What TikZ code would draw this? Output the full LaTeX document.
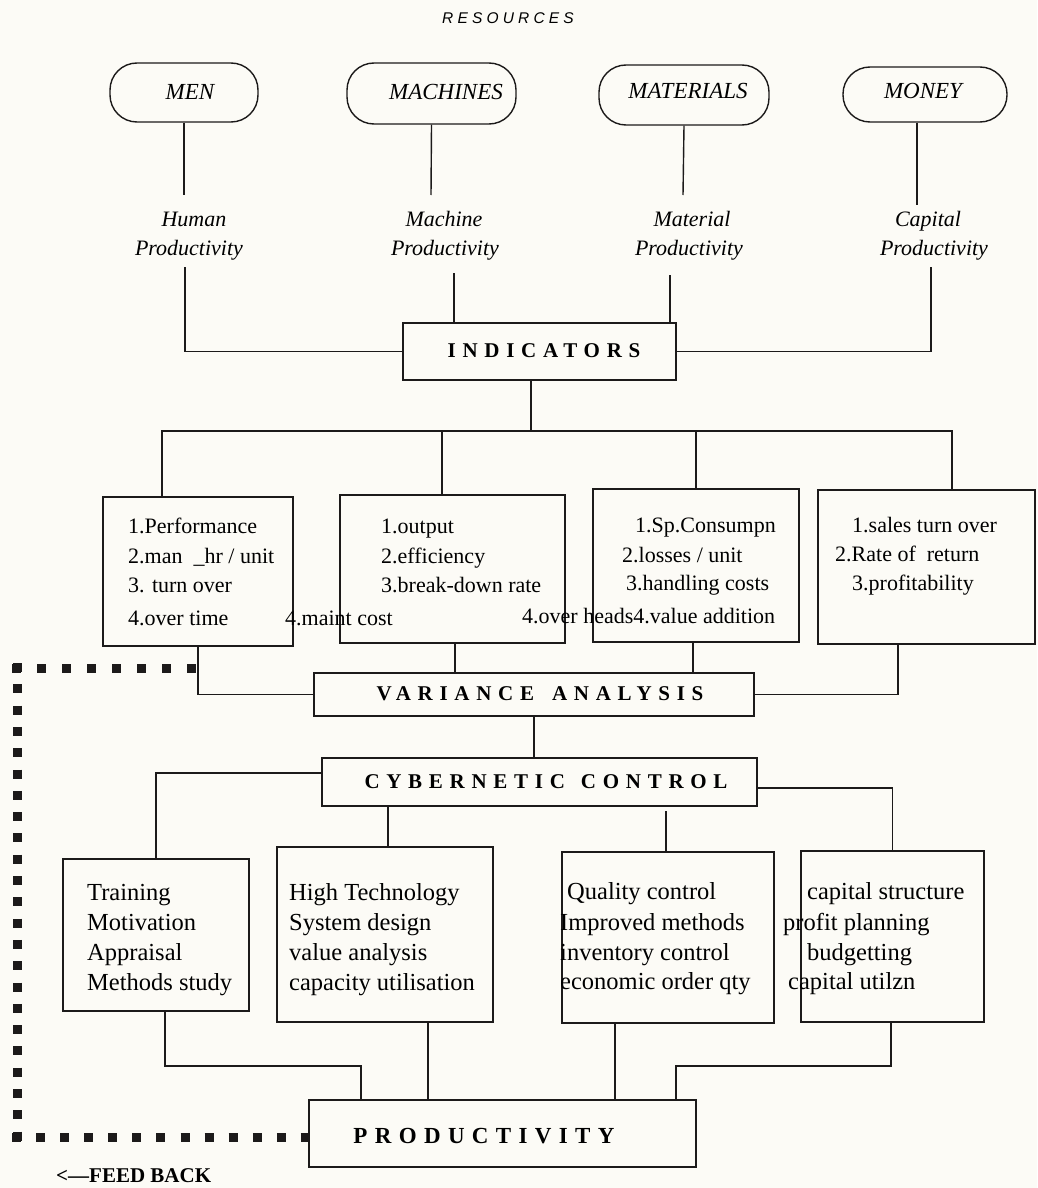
\documentclass[tikz,border=0pt]{standalone}
\usepackage{fontspec}
\setmainfont{Liberation Serif}
\newfontfamily\headfont[LetterSpace=32]{Liberation Serif}
\newfontfamily\resfont[LetterSpace=27]{Liberation Sans}
\usetikzlibrary{calc}
\definecolor{paper}{RGB}{252,251,246}
\definecolor{ink}{RGB}{28,26,26}

\begin{document}
\begin{tikzpicture}[x=1pt,y=-1pt,
  wire/.style={draw=ink, line width=1.4pt},
  box/.style={draw=ink, line width=1.4pt, inner sep=0pt},
  pill/.style={draw=ink, line width=1.4pt, rounded corners=27pt, inner sep=0pt},
  pilltext/.style={font=\fontsize{23}{26}\selectfont\itshape, anchor=base, inner sep=0pt},
  plab/.style={font=\fontsize{22}{26}\selectfont\itshape, anchor=base, inner sep=0pt},
  head/.style={font=\headfont\bfseries\fontsize{21}{24}\selectfont, anchor=base, inner sep=0pt},
  itxt/.style={font=\fontsize{22}{26}\selectfont, anchor=base west, inner sep=0pt},
  ctxt/.style={font=\fontsize{24.5}{28}\selectfont, anchor=base west, inner sep=0pt},
  feed/.style={draw=ink, line width=9pt},
]
\fill[paper] (0,0) rectangle (1037,1188);
\useasboundingbox (0,0) rectangle (1037,1188);

% ---------- resources ----------
\node[font=\resfont\itshape\fontsize{15.5}{18}\selectfont, anchor=base, inner sep=0pt] (res) at (508,24) {RESOURCES};

\node[pill, minimum width=148pt, minimum height=59pt] (men) at (184,92.5) {};
\node[pill, minimum width=169pt, minimum height=61pt] (mac) at (431.5,93.5) {};
\node[pill, minimum width=170pt, minimum height=60pt] (mat) at (684,95) {};
\node[pill, minimum width=164pt, minimum height=55pt] (mon) at (925,94.5) {};
\node[pilltext] (menT) at (190,100) {MEN};
\node[pilltext] (macT) at (446,100) {MACHINES};
\node[pilltext] (matT) at (688,99) {MATERIALS};
\node[pilltext] (monT) at (923,99) {MONEY};

% ---------- productivity kinds ----------
\node[plab] (hp1) at (194,226) {Human};
\node[plab] (hp2) at (189,255) {Productivity};
\node[plab] (mp1) at (444,226) {Machine};
\node[plab] (mp2) at (445,255) {Productivity};
\node[plab] (tp1) at (692,226) {Material};
\node[plab] (tp2) at (689,255) {Productivity};
\node[plab] (cp1) at (928,226) {Capital};
\node[plab] (cp2) at (934,255) {Productivity};

\coordinate (hpTop) at (184,195);
\coordinate (mpTop) at (431,195);
\coordinate (tpTop) at (683,195);
\coordinate (cpTop) at (917,205);
\coordinate (hpBot) at (185,267);
\coordinate (mpBot) at (454,273);
\coordinate (tpBot) at (670,275);
\coordinate (cpBot) at (931,267);

\draw[wire] (men.south) -- (hpTop);
\draw[wire] (mac.south) -- (mpTop);
\draw[wire] (mat.south) -- (tpTop);
\draw[wire] (mon.south -| cpTop) -- (cpTop);

% ---------- indicators ----------
\node[box, minimum width=273pt, minimum height=57pt] (ind) at (539.5,351.5) {};
\node[head] (indT) at (544,357) {INDICATORS};

\draw[wire] (hpBot) |- (ind.west);
\draw[wire] (mpBot) -- (mpBot |- ind.north);
\draw[wire] (tpBot) -- (tpBot |- ind.north);
\draw[wire] (cpBot) |- (ind.east);

\node[box, minimum width=190pt, minimum height=149pt] (b1) at (198,571.5) {};
\node[box, minimum width=225pt, minimum height=148pt] (b2) at (452.5,569) {};
\node[box, minimum width=206pt, minimum height=153pt] (b3) at (696,565.5) {};
\node[box, minimum width=217pt, minimum height=154pt] (b4) at (926.5,567) {};

\coordinate (bus) at (531,431);
\coordinate (p1) at ([xshift=-36pt]b1.north);
\coordinate (p2) at ([xshift=-10.5pt]b2.north);
\coordinate (p3) at (b3.north);
\coordinate (p4) at ([xshift=25.5pt]b4.north);
\draw[wire] ([xshift=-8.5pt]ind.south) -- (bus);
\draw[wire] (p1) -- (p1 |- bus) -- (p4 |- bus) -- (p4);
\draw[wire] (p2) -- (p2 |- bus);
\draw[wire] (p3) -- (p3 |- bus);

% indicator lists
\node[itxt] (a1) at (128,533) {1.Performance};
\node[itxt] (a2) at (128,563) {2.man\ \ \_hr / unit};
\node[itxt] (a3) at (128,592) {3. turn over};
\node[itxt] (a4) at (128,625) {4.over time};

\node[itxt] (m1) at (381,533) {1.output};
\node[itxt] (m2) at (381,563) {2.efficiency};
\node[itxt] (m3) at (381,592) {3.break-down rate};
\node[itxt] (m4) at (285,625) {4.maint cost};

\node[itxt] (t1) at (635,532) {1.Sp.Consumpn};
\node[itxt] (t2) at (622,562) {2.losses / unit};
\node[itxt] (t3) at (626,590) {3.handling costs};
\node[itxt] (t4) at (522,623) {4.over heads4.value addition};

\node[itxt] (k1) at (852,532) {1.sales turn over};
\node[itxt] (k2) at (835,561) {2.Rate of\ \ return};
\node[itxt] (k3) at (852,590) {3.profitability};

% ---------- variance analysis ----------
\node[box, minimum width=440pt, minimum height=43pt] (var) at (534,694.5) {};
\node[head] (varT) at (540,700) {VARIANCE\hspace{18pt}ANALYSIS};

\draw[wire] (b1.south) |- (var.west);
\draw[wire] ([xshift=2.5pt]b2.south) -- ([xshift=2.5pt]b2.south |- var.north);
\draw[wire] ([xshift=-3pt]b3.south) -- ([xshift=-3pt]b3.south |- var.north);
\draw[wire] ([xshift=-28.5pt]b4.south) |- (var.east);

% ---------- cybernetic control ----------
\node[box, minimum width=435pt, minimum height=48pt] (cyb) at (539.5,782) {};
\node[head] (cybT) at (546,788) {CYBERNETIC\hspace{16pt}CONTROL};
\draw[wire] (var.south) -- (var.south |- cyb.north);

\node[box, minimum width=186pt, minimum height=152pt] (c1) at (156,935) {};
\node[box, minimum width=216pt, minimum height=175pt] (c2) at (385,934.5) {};
\node[box, minimum width=212pt, minimum height=171pt] (c3) at (668,937.5) {};
\node[box, minimum width=183pt, minimum height=171pt] (c4) at (892.5,936.5) {};

\draw[wire] ([yshift=9pt]cyb.west) -| (c1.north);
\draw[wire] ([xshift=3pt]c2.north) -- ([xshift=3pt]c2.north |- cyb.south);
\draw[wire] ([yshift=-6pt]cyb.east) -| (c4.north);
\coordinate (c3stub) at ($(c3.north)+(-2,-40)$);
\draw[wire] ([xshift=-2pt]c3.north) -- (c3stub);

% control measures
\node[ctxt] (r1) at (87,900) {Training};
\node[ctxt] (r2) at (87,930) {Motivation};
\node[ctxt] (r3) at (87,960) {Appraisal};
\node[ctxt] (r4) at (87,990) {Methods study};

\node[ctxt] (h1) at (289,900) {High Technology};
\node[ctxt] (h2) at (289,930) {System design};
\node[ctxt] (h3) at (289,960) {value analysis};
\node[ctxt] (h4) at (289,990) {capacity utilisation};

\node[ctxt] (q1) at (567,899) {Quality control};
\node[ctxt] (q2) at (560,930) {Improved methods};
\node[ctxt] (q3) at (560,960) {inventory control};
\node[ctxt] (q4) at (560,989) {economic order qty};

\node[ctxt] (f1) at (807,899) {capital structure};
\node[ctxt] (f2) at (783,930) {profit planning};
\node[ctxt] (f3) at (807,960) {budgetting};
\node[ctxt] (f4) at (788,989) {capital utilzn};

% ---------- productivity ----------
\node[box, minimum width=387pt, minimum height=67pt] (prod) at (502.5,1133.5) {};
\node[head, font=\headfont\bfseries\fontsize{23}{26}\selectfont] (prodT) at (484,1143) {PRODUCTIVITY};

\coordinate (lev) at (0,1066);
\coordinate (s1) at ([xshift=9pt]c1.south);
\coordinate (e1) at ([xshift=-141.5pt]prod.north);
\coordinate (s4) at ([xshift=-1.5pt]c4.south);
\coordinate (e4) at ([xshift=173.5pt]prod.north);
\draw[wire] (s1) -- (s1 |- lev) -- (e1 |- lev) -- (e1);
\draw[wire] ([xshift=43pt]c2.south) -- ([xshift=43pt]c2.south |- prod.north);
\draw[wire] ([xshift=-53pt]c3.south) -- ([xshift=-53pt]c3.south |- prod.north);
\draw[wire] (s4) -- (s4 |- lev) -- (e4 |- lev) -- (e4);

% ---------- feedback loop ----------
\coordinate (fbEnd) at (197,668);
\coordinate (fbTL) at (12,668);
\coordinate (fbTop) at (17,663);
\coordinate (fbBot) at (17,1141.5);
\coordinate (fbBL) at (12,1137);
\draw[feed, dash pattern=on 9pt off 16pt] (fbTL) -- (fbEnd);
\draw[feed, dash pattern=on 9pt off 12.3pt] (fbTop) -- (fbBot);
\draw[feed, dash pattern=on 9pt off 15.08pt] (fbBL) -- (fbBL -| prod.west);

\node[font=\bfseries\fontsize{21}{24}\selectfont, anchor=base west, inner sep=0pt] (fbT) at (56,1182) {<—FEED BACK};

\end{tikzpicture}
\end{document}
